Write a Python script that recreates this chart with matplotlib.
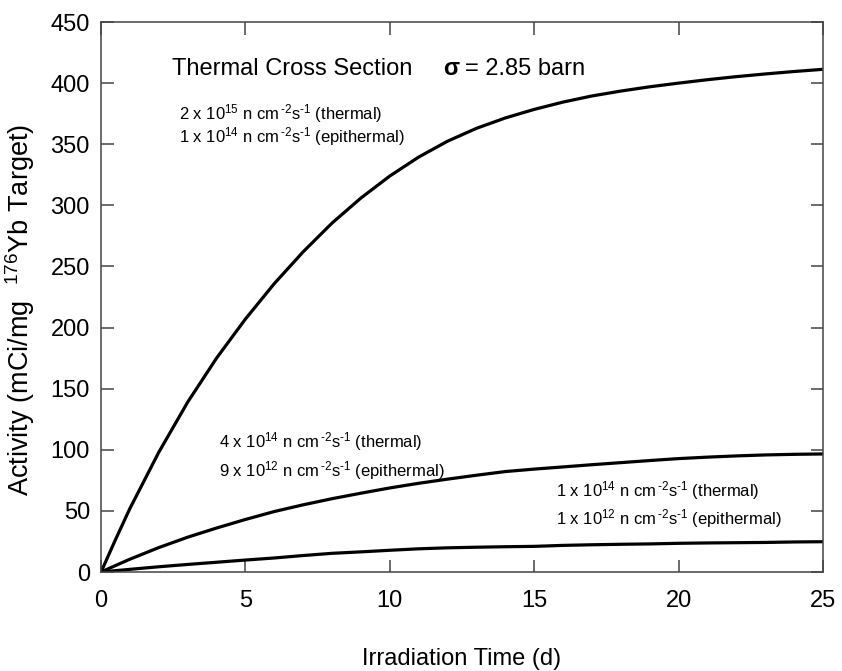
import numpy as np
import matplotlib.pyplot as plt

plt.rcParams['font.family'] = ['Liberation Sans', 'DejaVu Sans']
plt.rcParams['mathtext.fontset'] = 'custom'
plt.rcParams['mathtext.rm'] = 'Liberation Sans'
plt.rcParams['mathtext.it'] = 'Liberation Sans:italic'
plt.rcParams['mathtext.bf'] = 'Liberation Sans:bold'

# Irradiation time (d) and activity (mCi/mg 176Yb)
time_d = [0, 0.5, 1, 2, 3, 4, 5, 6, 7, 8, 9, 10, 11, 12, 13, 14,
          15, 16, 17, 18, 19, 20, 21, 22, 23, 24, 25]
act_high = [0, 26.5, 52, 98, 139, 175, 207, 236, 262, 285.5, 306, 324, 339.5,
            352.5, 363, 371.5, 378.5, 384.5, 389.5, 393.5, 397, 400, 402.8,
            405.3, 407.5, 409.5, 411.3]
act_mid = [0, 5.3, 10.5, 20, 28.5, 36, 43, 49.5, 55, 60, 64.5, 68.8, 72.6, 76,
           79.2, 82.2, 84.2, 86, 87.8, 89.5, 91.2, 92.8, 94, 95, 95.8, 96.3, 96.6]
act_low = [0, 1.1, 2.2, 4.3, 6.2, 8, 9.8, 11.5, 13.5, 15.3, 16.5, 17.8, 19,
           19.8, 20.3, 20.7, 21, 21.8, 22.3, 22.7, 23, 23.5, 23.8, 24, 24.2,
           24.6, 24.8]

x_ticks = [0, 5, 10, 15, 20, 25]
y_ticks = [0, 50, 100, 150, 200, 250, 300, 350, 400, 450]

flux = r"n cm$^{\,\text{-}2}$s$^{\text{-}1}$"
flux_labels = [
    (2.70, 370.7, r"2 x 10$^{15}$ " + flux + " (thermal)"),
    (2.70, 351.3, r"1 x 10$^{14}$ " + flux + " (epithermal)"),
    (4.09, 102.0, r"4 x 10$^{14}$ " + flux + " (thermal)"),
    (4.09, 78.0, r"9 x 10$^{12}$ " + flux + " (epithermal)"),
    (15.75, 62.2, r"1 x 10$^{14}$ " + flux + " (thermal)"),
    (15.75, 39.3, r"1 x 10$^{12}$ " + flux + " (epithermal)"),
]

fig = plt.figure(figsize=(8.42, 6.71), dpi=100)
ax = fig.add_axes([0.12, 0.1475, 0.8574, 0.8197])

for vals in (act_high, act_mid, act_low):
    ax.plot(time_d, vals, color='black', lw=2.3, solid_capstyle='round',
            solid_joinstyle='round')

ax.set_xlim(0, 25)
ax.set_ylim(0, 450)
ax.set_xticks(x_ticks)
ax.set_yticks(y_ticks)
ax.tick_params(direction='in', length=9, width=1.1, color='#444444',
               top=True, right=True, labelsize=17)
ax.tick_params(axis='x', pad=13)
ax.tick_params(axis='y', pad=8)
for sp in ax.spines.values():
    sp.set_linewidth(1.1)
    sp.set_color('#444444')

ax.set_xlabel("Irradiation Time (d)", fontsize=17, labelpad=26)
ax.set_ylabel(r"Activity (mCi/mg  $^{176}$Yb Target)", fontsize=19.5)
ax.yaxis.set_label_coords(-0.089, 0.476)

# header text
ax.text(2.46, 406.7, "Thermal Cross Section", fontsize=17, va='baseline')
ax.text(11.84, 406.7, "σ", fontsize=17, fontweight='bold', va='baseline')
ax.text(12.62, 406.7, "= 2.85 barn", fontsize=17, va='baseline')

for x, y, s in flux_labels:
    ax.text(x, y, s, fontsize=12, va='baseline')

fig.savefig("out.png", dpi=100)
